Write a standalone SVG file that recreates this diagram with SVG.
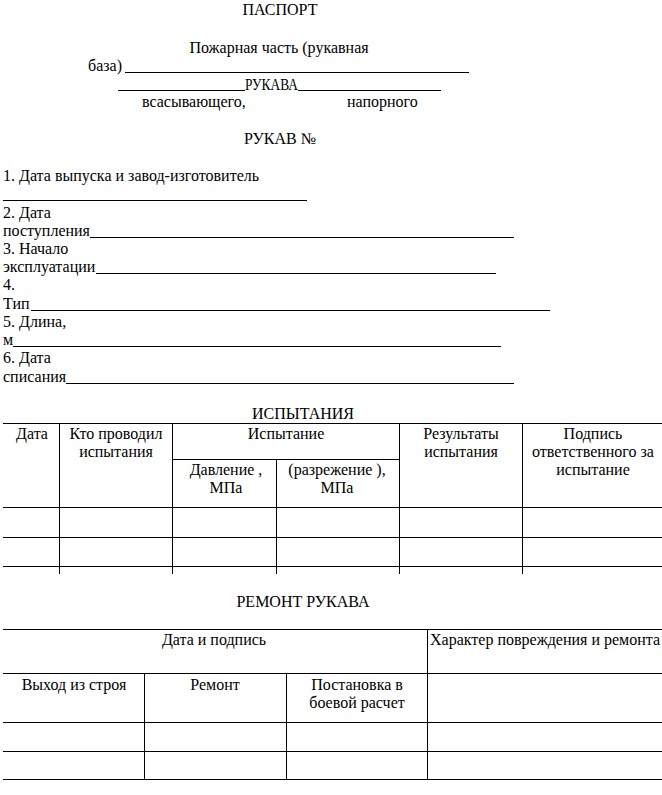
<svg xmlns="http://www.w3.org/2000/svg" width="662" height="795" viewBox="0 0 662 795">
<style>
text{font-family:"Liberation Serif","Times New Roman","DejaVu Serif",serif;font-size:16px;fill:#000}
.c{text-anchor:middle}
line{stroke:#000;stroke-width:1;shape-rendering:crispEdges}
</style>
<rect width="662" height="795" fill="#fff"/>
<g id="header">
<text class="c" x="280" y="15">ПАСПОРТ</text>
<text class="c" x="279" y="53">Пожарная часть (рукавная</text>
<text x="88" y="71">база)</text>
<line x1="125" y1="72.5" x2="469" y2="72.5"/>
<line x1="118" y1="90.5" x2="245" y2="90.5"/>
<text x="245" y="90" textLength="53" lengthAdjust="spacingAndGlyphs">РУКАВА</text>
<line x1="298" y1="90.5" x2="441" y2="90.5"/>
<text x="142" y="107">всасывающего,</text>
<text x="347" y="107">напорного</text>
<text class="c" x="280" y="144">РУКАВ №</text>
</g>
<g id="fields">
<text x="3" y="181">1. Дата выпуска и завод-изготовитель</text>
<line x1="3" y1="200.5" x2="307" y2="200.5"/>
<text x="3" y="218">2. Дата</text>
<text x="3" y="236">поступления</text>
<line x1="90" y1="237.5" x2="514" y2="237.5"/>
<text x="3" y="254">3. Начало</text>
<text x="3" y="272">эксплуатации</text>
<line x1="96" y1="273.5" x2="496" y2="273.5"/>
<text x="3" y="290">4.</text>
<text x="3" y="309">Тип</text>
<line x1="31" y1="310.5" x2="550" y2="310.5"/>
<text x="3" y="327">5. Длина,</text>
<text x="3" y="345">м</text>
<line x1="13" y1="346.5" x2="501" y2="346.5"/>
<text x="3" y="363">6. Дата</text>
<text x="3" y="382">списания</text>
<line x1="66" y1="383.5" x2="514" y2="383.5"/>
</g>
<g id="table-tests">
<text class="c" x="303" y="419">ИСПЫТАНИЯ</text>
<line x1="3" y1="423.5" x2="662" y2="423.5"/>
<line x1="172" y1="459.5" x2="400" y2="459.5"/>
<line x1="3" y1="507.5" x2="662" y2="507.5"/>
<line x1="3" y1="537.5" x2="662" y2="537.5"/>
<line x1="3" y1="566.5" x2="662" y2="566.5"/>
<line x1="59.5" y1="423" x2="59.5" y2="574"/>
<line x1="172.5" y1="423" x2="172.5" y2="574"/>
<line x1="276.5" y1="459" x2="276.5" y2="574"/>
<line x1="399.5" y1="423" x2="399.5" y2="574"/>
<line x1="522.5" y1="423" x2="522.5" y2="574"/>
<text class="c" x="32" y="439">Дата</text>
<text class="c" x="116" y="439">Кто проводил</text>
<text class="c" x="116" y="457">испытания</text>
<text class="c" x="286" y="439">Испытание</text>
<text class="c" x="226" y="475">Давление ,</text>
<text class="c" x="226" y="493">МПа</text>
<text class="c" x="337" y="475">(разрежение ),</text>
<text class="c" x="337" y="493">МПа</text>
<text class="c" x="461" y="439">Результаты</text>
<text class="c" x="461" y="457">испытания</text>
<text class="c" x="593" y="439">Подпись</text>
<text class="c" x="593" y="457">ответственного за</text>
<text class="c" x="593" y="475">испытание</text>
</g>
<g id="table-repair">
<text class="c" x="303" y="607">РЕМОНТ РУКАВА</text>
<line x1="3" y1="629.5" x2="662" y2="629.5"/>
<line x1="3" y1="673.5" x2="662" y2="673.5"/>
<line x1="3" y1="722.5" x2="662" y2="722.5"/>
<line x1="3" y1="751.5" x2="662" y2="751.5"/>
<line x1="3" y1="779.5" x2="662" y2="779.5"/>
<line x1="144.5" y1="673" x2="144.5" y2="779"/>
<line x1="286.5" y1="673" x2="286.5" y2="779"/>
<line x1="427.5" y1="629" x2="427.5" y2="779"/>
<text class="c" x="214" y="645">Дата и подпись</text>
<text x="430" y="645">Характер повреждения и ремонта</text>
<text class="c" x="74" y="690">Выход из строя</text>
<text class="c" x="215" y="690">Ремонт</text>
<text class="c" x="357" y="690">Постановка в</text>
<text class="c" x="357" y="708">боевой расчет</text>
</g>
</svg>
